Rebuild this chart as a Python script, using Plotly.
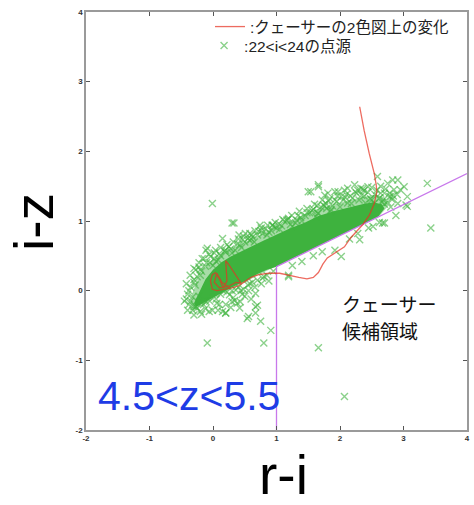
import plotly.graph_objects as go

# ---------------- data ----------------
# outer (semi-dense) envelope of the r-i / i-z distribution
halo_ri = [-0.36, -0.33, -0.26, -0.16, -0.04, 0.12, 0.28, 0.50, 0.70, 0.90, 1.14, 1.40, 1.66, 1.90, 2.17, 2.40, 2.56, 2.70, 2.76,
           2.62, 2.45, 2.17, 1.66, 1.14, 1.00, 0.85, 0.70, 0.51, 0.30, 0.10, 0.00, -0.15, -0.30]
halo_iz = [-0.22, -0.05, 0.12, 0.29, 0.41, 0.52, 0.60, 0.69, 0.78, 0.88, 0.98, 1.08, 1.18, 1.24, 1.30, 1.35, 1.38, 1.34, 1.22,
           1.07, 0.99, 0.87, 0.64, 0.41, 0.345, 0.29, 0.22, 0.12, 0.03, -0.07, -0.13, -0.21, -0.27]

# dense core (solid green band)
core_ri = [-0.30, -0.22, -0.12, 0.00, 0.14, 0.28, 0.45, 0.62, 0.80, 1.00, 1.20, 1.45, 1.66, 1.90, 2.15, 2.35, 2.52, 2.66, 2.70,
           2.60, 2.45, 2.17, 1.66, 1.14, 1.00, 0.85, 0.70, 0.51, 0.30, 0.10, 0.00, -0.15, -0.26]
core_iz = [-0.18, -0.02, 0.16, 0.30, 0.41, 0.49, 0.57, 0.64, 0.72, 0.81, 0.89, 0.98, 1.07, 1.14, 1.20, 1.24, 1.27, 1.24, 1.18,
           1.06, 0.99, 0.87, 0.64, 0.41, 0.345, 0.30, 0.24, 0.14, 0.05, -0.05, -0.10, -0.17, -0.23]

# individual point sources (22<i<24)
src_ri = [-0.01, 0.33, 0.51, 0.74, 0.72, 0.94, 0.15, 1.16, 1.32, 1.54, 1.66, 1.76, 1.76, 1.65,
          3.375, 3.43, 2.70, 3.01, 2.91, 3.06, 2.75, 2.59, 2.64, 2.80, 2.91, 2.44, 2.28, 2.23, 2.07, 2.02,
          1.81, 1.97, 1.66, 1.50, 2.18, 2.54, 2.28, 2.52, 1.86, 1.66,
          0.30, 0.93, 2.38, 3.06, 2.31, 2.02, 1.92, 1.19, -0.22, -0.11, -0.04, -0.27, -0.32, -0.27,
          -0.01, 0.20, 0.56, 0.67, 0.67, 0.38,
          -0.09, 0.80, 0.91, 0.75, 0.67, 0.54, 0.70, 0.20, 1.66, 2.07, -0.11, 0.43, 0.30,
          2.67, 3.04, 1.19, -0.09, -0.30, 1.79, 2.83, 2.33, 2.12, 1.92, 1.19, 0.61, 0.41, 0.20, 0.02, -0.17, 0.15,
          # fringe above the band
          -0.35, -0.30, -0.25, -0.18, -0.12, -0.05, 0.05, 0.12, 0.20, 0.28, 0.35, 0.42, 0.50, 0.58, 0.65, 0.70,
          0.78, 0.85, 0.92, 1.00, 1.08, 1.22, 1.30, 1.38, 1.45, 1.52, 1.58, 1.70, 1.78, 1.88, 1.95, 2.05, 2.12,
          2.20, 2.30, 2.38, 2.48, 2.55, 2.62, 2.68, 2.75, 2.82, 2.90, 2.95, 2.85, 2.78,
          -0.28, -0.20, 0.00, 0.08, 0.30, 0.45, 0.60, 0.88, 1.05, 1.25, 1.40, 1.62, 1.85, 2.00, 2.40, 2.50, 2.66,
          -0.38, -0.30, -0.20, -0.10, 0.02, 0.10, 0.18, 0.25, 0.38, 0.47, 0.55, 0.62, 0.76, 0.83, 0.96, 1.04,
          1.12, 1.18, 1.34, 1.48, 1.56, 1.64, 1.74, 1.82, 1.92, 2.08, 2.16, 2.26, 2.34, 2.44, 2.58, 2.70, 2.78,
          -0.42, -0.36, -0.30, -0.22, -0.14, -0.06, 0.04, 0.12, 0.22, 0.32, 0.40, 0.48, 0.58, 0.66, 0.76, 0.86,
          0.98, 1.10, 1.24, 1.36, 1.48, 1.60, 1.72, 1.84, 1.96, 2.10, 2.24, 2.36, 2.50, 2.64, 2.72, 2.84, 2.70, 2.80,
          # fringe below the band
          -0.40, -0.35, -0.25, -0.15, -0.05, 0.05, 0.12, 0.22, 0.30, 0.40, 0.48, 0.55, 0.62, 0.70, 0.78, 0.85, 0.95,
          0.32, 0.10, 0.50, 0.60, -0.20, -0.38, -0.22, 0.00, 0.16, 0.36, 0.58, 0.80,
          -0.42, -0.32, -0.12, 0.06, 0.26, 0.44,
          -0.45, -0.40, -0.30, -0.18, -0.06, 0.08, 0.20, 0.34, 0.46, 0.56, 0.66, 0.76, 0.88, 0.42, 0.28,
          # below the purple cut
          1.25, 1.40, 1.58, 1.72, 2.15, 2.45, 2.62, 2.88]
src_iz = [1.25, 0.97, 0.82, 0.94, 0.85, 0.94, 0.75, 1.01, 1.01, 1.42, 1.49, 1.37, 1.21, 1.11,
          1.54, 0.90, 0.97, 1.49, 1.59, 1.35, 1.54, 1.64, 1.40, 1.35, 1.25, 1.49, 1.44, 1.52, 1.44, 1.35,
          1.40, 1.42, 1.52, 1.42, 1.25, 1.25, 0.82, 0.92, 1.16, 1.11,
          0.97, 0.94, 1.44, 1.21, 0.73, 0.49, 0.58, 0.20, 0.34, 0.58, 0.49, 0.30, -0.09, -0.23,
          -0.28, -0.32, -0.37, -0.23, -0.04, -0.18,
          -0.75, -0.75, -0.57, -0.44, -0.32, -0.40, -0.21, -0.32, -0.82, -1.52, -0.16, -0.16, -0.16,
          0.97, 1.23, 0.22, 0.61, -0.23, 1.18, 1.59, 1.47, 1.47, 1.42, 1.04, 0.80, 0.80, 0.58, 0.54, 0.46, -0.30,
          0.05, 0.12, 0.20, 0.28, 0.35, 0.40, 0.42, 0.50, 0.55, 0.60, 0.58, 0.66, 0.70, 0.72, 0.70, 0.80,
          0.82, 0.80, 0.86, 0.90, 0.93, 0.95, 0.97, 1.05, 1.08, 1.12, 1.17, 1.20, 1.25, 1.22, 1.28, 1.30, 1.26,
          1.33, 1.30, 1.36, 1.32, 1.38, 1.33, 1.30, 1.27, 1.31, 1.38, 1.45, 1.45, 1.40,
          0.08, 0.22, 0.36, 0.44, 0.54, 0.62, 0.74, 0.84, 0.88, 0.92, 1.00, 1.06, 1.14, 1.20, 1.26, 1.30, 1.27,
          0.00, 0.16, 0.30, 0.40, 0.46, 0.53, 0.57, 0.63, 0.67, 0.73, 0.75, 0.77, 0.86, 0.89, 0.92, 0.96,
          1.00, 1.02, 1.08, 1.12, 1.15, 1.22, 1.23, 1.29, 1.30, 1.34, 1.36, 1.40, 1.37, 1.41, 1.44, 1.40, 1.35,
          0.10, 0.22, 0.32, 0.40, 0.46, 0.52, 0.58, 0.62, 0.66, 0.70, 0.74, 0.78, 0.82, 0.86, 0.90, 0.94,
          0.98, 1.02, 1.08, 1.14, 1.18, 1.24, 1.30, 1.32, 1.36, 1.38, 1.42, 1.46, 1.48, 1.50, 1.46, 1.36, 1.24, 1.20,
          -0.05, -0.15, -0.25, -0.20, -0.15, -0.12, -0.05, -0.02, 0.00, 0.05, 0.02, 0.08, 0.12, 0.15, 0.18, 0.22, 0.28,
          -0.10, -0.20, -0.08, -0.12, -0.30, -0.20, -0.08, -0.02, 0.00, 0.01, 0.10, 0.20,
          -0.12, -0.28, -0.26, -0.18, -0.06, 0.00,
          -0.15, -0.28, -0.35, -0.34, -0.30, -0.28, -0.20, -0.14, -0.05, 0.00, 0.05, 0.10, 0.14, -0.25, -0.24,
          0.36, 0.42, 0.50, 0.56, 0.74, 0.90, 0.98, 1.08]

# colour track of quasars in the two-colour diagram as redshift changes
qso_ri = [2.31, 2.38, 2.46, 2.54, 2.57, 2.58, 2.54, 2.46, 2.36, 2.26, 2.17, 2.07, 1.92, 1.80, 1.73, 1.66, 1.58, 1.48,
          1.35, 1.22, 1.05, 0.88, 0.72, 0.60, 0.50, 0.40, 0.30, 0.18, 0.06, -0.01, -0.04, -0.01, 0.04, 0.10, 0.16,
          0.22, 0.20, 0.26, 0.34, 0.44, 0.36, 0.24, 0.10, 0.02, 0.06, 0.14, 0.28]
qso_iz = [2.64, 2.30, 1.97, 1.68, 1.52, 1.42, 1.25, 1.08, 0.95, 0.85, 0.76, 0.63, 0.54, 0.47, 0.38, 0.26, 0.19, 0.17,
          0.19, 0.22, 0.25, 0.25, 0.23, 0.19, 0.13, 0.07, 0.04, 0.02, 0.00, 0.02, 0.14, 0.23, 0.26, 0.17, 0.04,
          0.14, 0.43, 0.36, 0.24, 0.11, 0.12, 0.06, 0.04, 0.12, 0.25, 0.12, 0.03]

# quasar candidate selection boundary
cut_ri = [1.0, 1.0, 4.0]
cut_iz = [-2.0, 0.345, 1.68]

tick_vals = [-2, -1, 0, 1, 2, 3, 4]
tick_text = ["-2", "-1", "0", "1", "2", "3", "4"]

legend_qso = ":クェーサーの2色図上の変化"
legend_src = ":22<i<24の点源"
region_line1 = "クェーサー"
region_line2 = "候補領域"
z_label = "4.5<z<5.5"

GREEN = "rgb(62,178,62)"
FONT = "Liberation Sans, Noto Sans CJK JP"

fig = go.Figure()

fig.add_trace(go.Scatter(
    x=halo_ri, y=halo_iz, mode="lines", fill="toself",
    fillcolor="rgba(62,178,62,0.45)", line=dict(width=0, color=GREEN),
    showlegend=False, hoverinfo="skip"))

fig.add_trace(go.Scatter(
    x=core_ri, y=core_iz, mode="lines", fill="toself",
    fillcolor=GREEN, line=dict(width=0, color=GREEN),
    showlegend=False, hoverinfo="skip"))

fig.add_trace(go.Scatter(
    x=src_ri, y=src_iz, mode="markers", name=legend_src, legend="legend2",
    marker=dict(symbol="x-thin", size=7,
                line=dict(width=1.4, color="rgba(62,178,62,0.6)"))))

fig.add_trace(go.Scatter(
    x=cut_ri, y=cut_iz, mode="lines", showlegend=False,
    line=dict(color="rgb(200,120,235)", width=1.3)))

fig.add_trace(go.Scatter(
    x=qso_ri, y=qso_iz, mode="lines", name=legend_qso, legend="legend",
    line=dict(color="rgba(230,50,35,0.72)", width=1.3)))

axis_common = dict(
    range=[-2, 4], tickvals=tick_vals, ticktext=tick_text,
    ticks="inside", ticklen=4, tickwidth=1, tickcolor="#555",
    showline=True, linecolor="#9a9a9a", linewidth=1.5, mirror="ticks",
    showgrid=False, zeroline=False,
    tickfont=dict(family=FONT, size=8, color="#333", weight="bold"),
)

legend_common = dict(xanchor="left", yanchor="middle", bgcolor="rgba(0,0,0,0)",
                     font=dict(size=15.5, color="#222"), itemwidth=30)

fig.update_layout(
    width=474, height=505,
    margin=dict(l=86, r=4, t=12, b=75),
    paper_bgcolor="white", plot_bgcolor="white",
    xaxis=axis_common, yaxis=axis_common,
    font=dict(family=FONT, color="#222"),
    legend=dict(x=(211 - 86) / 384, y=(430 - 27) / 418, **legend_common),
    legend2=dict(x=(205 - 86) / 384, y=(430 - 46) / 418, **legend_common),
    annotations=[
        dict(text="r-i", xref="paper", yref="paper", x=0.518, y=-0.108,
             xanchor="center", yanchor="middle", showarrow=False,
             font=dict(family="Liberation Sans", size=55, color="black")),
        dict(text="i-z", xref="paper", yref="paper", x=-0.136, y=0.498,
             xanchor="center", yanchor="middle", showarrow=False, textangle=-90,
             font=dict(family="Liberation Sans", size=55, color="black")),
        dict(text=z_label, xref="paper", yref="paper", x=(96 - 86) / 384, y=(430 - 396) / 418,
             xanchor="left", yanchor="middle", showarrow=False,
             font=dict(family="Liberation Sans", size=41, color="rgb(30,60,230)")),
        dict(text=region_line1, xref="paper", yref="paper", x=(342 - 86) / 384, y=(430 - 303) / 418,
             xanchor="left", yanchor="middle", showarrow=False,
             font=dict(family="Noto Sans CJK JP", size=19, color="#111")),
        dict(text=region_line2, xref="paper", yref="paper", x=(342 - 86) / 384, y=(430 - 330) / 418,
             xanchor="left", yanchor="middle", showarrow=False,
             font=dict(family="Noto Sans CJK JP", size=19, color="#111")),
    ],
)

fig.write_html("out.html")
